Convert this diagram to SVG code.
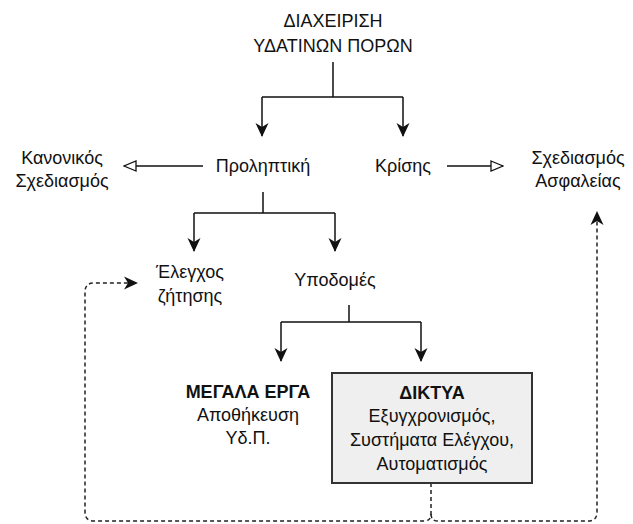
<svg xmlns="http://www.w3.org/2000/svg" width="633" height="524" viewBox="0 0 633 524">
<style>
text{font-family:"Liberation Sans",Arial,sans-serif;font-size:18px;fill:#111;text-anchor:middle}
.b{font-weight:bold}
.ln{fill:none;stroke:#111;stroke-width:1.5}
.ds{fill:none;stroke:#222;stroke-width:1.5;stroke-dasharray:4 3}
</style>
<defs>
<marker id="fa" viewBox="0 0 14 14" refX="13" refY="7" markerWidth="14" markerHeight="14" markerUnits="userSpaceOnUse" orient="auto">
<path d="M0,0.5 L14,7 L0,13.5 L4,7 Z" fill="#111"/>
</marker>
<marker id="oa" viewBox="0 0 14 12" refX="13" refY="6" markerWidth="14" markerHeight="12" markerUnits="userSpaceOnUse" orient="auto">
<path d="M1,1 L13,6 L1,11 Z" fill="#fff" stroke="#111" stroke-width="1.3"/>
</marker>
</defs>
<rect width="633" height="524" fill="#fff"/>
<g id="connectors">
<path class="ln" d="M333,62 V97 M262,97 H403"/>
<path class="ln" d="M262,97 V136" marker-end="url(#fa)"/>
<path class="ln" d="M403,97 V136" marker-end="url(#fa)"/>
<path class="ln" d="M203,166 H124" marker-end="url(#oa)"/>
<path class="ln" d="M447,166 H503" marker-end="url(#oa)"/>
<path class="ln" d="M263,192 V213 M194,213 H335"/>
<path class="ln" d="M194,213 V251" marker-end="url(#fa)"/>
<path class="ln" d="M335,213 V251" marker-end="url(#fa)"/>
<path class="ln" d="M349,305 V322 M281,322 H421"/>
<path class="ln" d="M281,322 V361" marker-end="url(#fa)"/>
<path class="ln" d="M421,322 V361" marker-end="url(#fa)"/>
<path class="ds" d="M431,483 V514 Q431,521 424,521 H94 Q85,521 85,512 V292 Q85,283 94,283 H137" marker-end="url(#fa)"/>
<path class="ds" d="M431,514 Q431,521 438,521 H588 Q597,521 597,512 V212" marker-end="url(#fa)"/>
</g>
<g id="n-title"><text x="333" y="27">ΔΙΑΧΕΙΡΙΣΗ</text><text x="333" y="52">ΥΔΑΤΙΝΩΝ ΠΟΡΩΝ</text></g>
<g id="n-kanonikos"><text x="62" y="164">Κανονικός</text><text x="62" y="187">Σχεδιασμός</text></g>
<g id="n-proliptiki"><text x="263" y="172">Προληπτική</text></g>
<g id="n-kriseis"><text x="403" y="172">Κρίσης</text></g>
<g id="n-asfaleia"><text x="578" y="164">Σχεδιασμός</text><text x="578" y="187">Ασφαλείας</text></g>
<g id="n-elegxos"><text x="190" y="278">Έλεγχος</text><text x="190" y="302">ζήτησης</text></g>
<g id="n-ypodomes"><text x="335" y="286">Υποδομές</text></g>
<g id="n-megala"><text class="b" x="248" y="398">ΜΕΓΑΛΑ ΕΡΓΑ</text><text x="248" y="421">Αποθήκευση</text><text x="248" y="444">Υδ.Π.</text></g>
<g id="n-diktya"><rect x="332" y="373" width="200" height="110" fill="#efefef" stroke="#333" stroke-width="2"/><text class="b" x="432" y="399">ΔΙΚΤΥΑ</text><text x="432" y="422">Εξυγχρονισμός,</text><text x="432" y="446">Συστήματα Ελέγχου,</text><text x="432" y="470">Αυτοματισμός</text></g>
</svg>
